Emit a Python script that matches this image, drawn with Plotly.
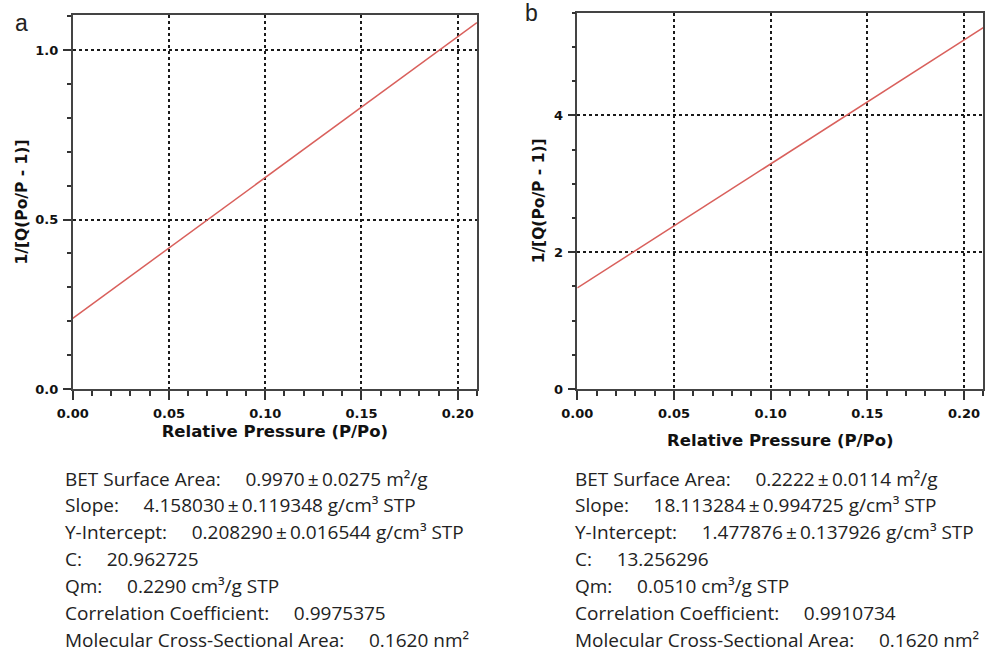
import plotly.graph_objects as go

W, H = 999, 653

# BET fit parameters for the two samples
slope_a, intercept_a = 4.158030, 0.208290
slope_b, intercept_b = 18.113284, 1.477876
p_range = [0.0, 0.21]  # relative pressure span of the fitted line

x_ticks = [0.00, 0.05, 0.10, 0.15, 0.20]

GAP = "\u00a0" * 5    # wide gap after each label
PM = "\u2009±\u2009"  # tight plus-minus

lines_a = [
    f"BET Surface Area:{GAP}0.9970{PM}0.0275 m²/g",
    f"Slope:{GAP}4.158030{PM}0.119348 g/cm³ STP",
    f"Y-Intercept:{GAP}0.208290{PM}0.016544 g/cm³ STP",
    f"C:{GAP}20.962725",
    f"Qm:{GAP}0.2290 cm³/g STP",
    f"Correlation Coefficient:{GAP}0.9975375",
    f"Molecular Cross-Sectional Area:{GAP}0.1620 nm²",
]
lines_b = [
    f"BET Surface Area:{GAP}0.2222{PM}0.0114 m²/g",
    f"Slope:{GAP}18.113284{PM}0.994725 g/cm³ STP",
    f"Y-Intercept:{GAP}1.477876{PM}0.137926 g/cm³ STP",
    f"C:{GAP}13.256296",
    f"Qm:{GAP}0.0510 cm³/g STP",
    f"Correlation Coefficient:{GAP}0.9910734",
    f"Molecular Cross-Sectional Area:{GAP}0.1620 nm²",
]


def px_x(v):
    return v / W


def px_y(v):
    return 1 - v / H


fig = go.Figure()

for slope, icpt, xa, ya in [(slope_a, intercept_a, "x", "y"),
                            (slope_b, intercept_b, "x2", "y2")]:
    fig.add_trace(go.Scatter(
        x=p_range,
        y=[icpt + slope * p for p in p_range],
        mode="lines",
        line=dict(color="#d9605c", width=1.5),
        xaxis=xa, yaxis=ya, showlegend=False,
    ))

tick_font = dict(family="DejaVu Sans", size=13, color="#111", weight="bold")
title_font = dict(family="DejaVu Sans", size=16.5, color="#111")
ytitle_font = dict(family="DejaVu Sans", size=15.5, color="#111")

common_x = dict(
    range=p_range, tickmode="array", tickvals=x_ticks, tickformat=".2f",
    ticks="outside", ticklen=9, tickwidth=1.5, tickcolor="#333",
    minor=dict(dtick=0.01, tick0=0, ticks="outside", ticklen=5,
               tickwidth=1.5, tickcolor="#333", showgrid=False),
    showline=True, linecolor="#444", linewidth=1.5, mirror=True,
    showgrid=True, gridcolor="#1a1a1a", gridwidth=1.6, griddash="3px,3px",
    zeroline=False, tickfont=tick_font, ticklabelstandoff=3,
    automargin=False,
)
common_y = dict(
    ticks="outside", ticklen=8, tickwidth=1.5, tickcolor="#333",
    showline=True, linecolor="#444", linewidth=1.5, mirror=True,
    showgrid=True, gridcolor="#1a1a1a", gridwidth=1.6, griddash="3px,3px",
    zeroline=False, tickfont=tick_font, ticklabelstandoff=2,
    automargin=False,
)

fig.update_layout(
    width=W, height=H,
    margin=dict(l=0, r=0, t=0, b=0),
    paper_bgcolor="white", plot_bgcolor="white",
    xaxis=dict(common_x, domain=[px_x(72.7), px_x(477)], anchor="y",
               title=dict(text="<b>Relative Pressure (P/Po)</b>",
                          font=title_font, standoff=5)),
    yaxis=dict(common_y, domain=[px_y(389), px_y(15)], anchor="x",
               range=[0, 1.104], tickvals=[0.0, 0.5, 1.0], tickformat=".1f",
               minor=dict(dtick=0.1, tick0=0, ticks="outside", ticklen=4,
                          tickwidth=1.5, tickcolor="#333", showgrid=False),
               title=dict(text="<b>1/[Q(Po/P - 1)]</b>",
                          font=ytitle_font, standoff=4)),
    xaxis2=dict(common_x, domain=[px_x(577.3), px_x(983.3)], anchor="y2",
                title=dict(text="<b>Relative Pressure (P/Po)</b>",
                           font=title_font, standoff=14)),
    yaxis2=dict(common_y, domain=[px_y(389), px_y(12.7)], anchor="x2",
                range=[0, 5.5], tickvals=[0, 2, 4], tickformat="d",
                minor=dict(dtick=0.5, tick0=0, ticks="outside", ticklen=4,
                           tickwidth=1.5, tickcolor="#333", showgrid=False),
                title=dict(text="<b>1/[Q(Po/P - 1)]</b>",
                           font=ytitle_font, standoff=5)),
)

label_font = dict(family="Liberation Sans", size=23, color="#222")
annotations = [
    dict(text="a", x=px_x(21), y=px_y(23), xref="paper", yref="paper",
         xanchor="center", yanchor="middle", showarrow=False, font=label_font),
    dict(text="b", x=px_x(531), y=px_y(13), xref="paper", yref="paper",
         xanchor="center", yanchor="middle", showarrow=False, font=label_font),
]

body_font = dict(family="Open Sans", size=19, color="#222")
for lines, x0 in [(lines_a, 63), (lines_b, 573)]:
    for i, txt in enumerate(lines):
        annotations.append(dict(
            text=txt, x=px_x(x0), y=px_y(478.5 + 26.9 * i),
            xref="paper", yref="paper", xanchor="left", yanchor="middle",
            showarrow=False, font=body_font,
        ))

fig.update_layout(annotations=annotations)

fig.write_html("out.html")
